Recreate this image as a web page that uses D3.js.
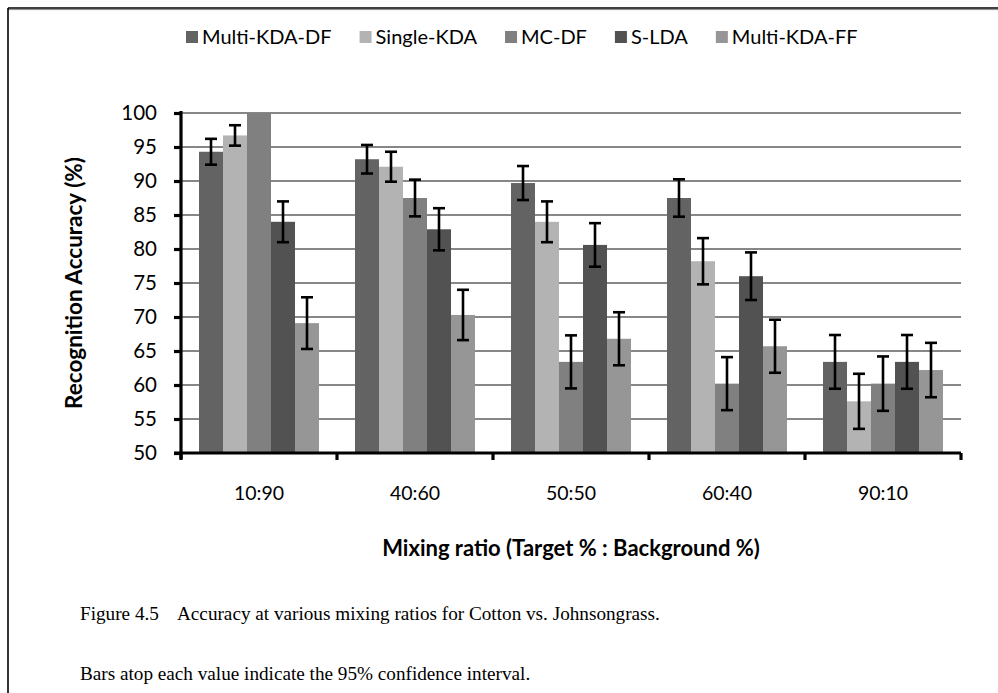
<!DOCTYPE html>
<html>
<head>
<meta charset="utf-8">
<script src="https://cdn.jsdelivr.net/npm/d3@7"></script>
<style>
  html, body { margin: 0; padding: 0; background: #fff; }
  svg { display: block; }
  .lbl { font-family: Lato, "Open Sans", sans-serif; fill: #000; }
  .cap { font-family: "Liberation Serif", "Times New Roman", serif; fill: #000; }
</style>
</head>
<body>
<svg id="chart" width="998" height="693"></svg>
<script>
// Mixing ratios (target : background)
const categories = ["10:90", "40:60", "50:50", "60:40", "90:10"];
const seriesNames = ["Multi-KDA-DF", "Single-KDA", "MC-DF", "S-LDA", "Multi-KDA-FF"];
const seriesColors = ["#636363", "#b3b3b3", "#808080", "#525252", "#969696"];

// Recognition accuracy (%) per method
const multiKdaDf = [94.3, 93.2, 89.7, 87.5, 63.4];
const singleKda  = [96.7, 92.1, 84.0, 78.2, 57.6];
const mcDf       = [100.0, 87.5, 63.4, 60.2, 60.2];
const sLda       = [84.0, 82.9, 80.6, 76.0, 63.4];
const multiKdaFf = [69.1, 70.3, 66.8, 65.7, 62.2];

// Half-width of the 95% confidence interval
const multiKdaDfErr = [1.9, 2.1, 2.5, 2.75, 3.95];
const singleKdaErr  = [1.5, 2.2, 3.0, 3.4, 4.05];
const mcDfErr       = [null, 2.7, 3.9, 3.9, 4.0];
const sLdaErr       = [3.0, 3.1, 3.2, 3.5, 3.95];
const multiKdaFfErr = [3.8, 3.7, 3.9, 3.9, 4.0];

const yTicks = [50, 55, 60, 65, 70, 75, 80, 85, 90, 95, 100];

const values = [multiKdaDf, singleKda, mcDf, sLda, multiKdaFf];
const errors = [multiKdaDfErr, singleKdaErr, mcDfErr, sLdaErr, multiKdaFfErr];

const svg = d3.select("#chart");

// page frame (top and left rules)
svg.append("line").attr("x1", 8).attr("x2", 998).attr("y1", 8).attr("y2", 8)
  .attr("stroke", "#000").attr("stroke-width", 1.6);
svg.append("line").attr("x1", 8).attr("x2", 998).attr("y1", 9.6).attr("y2", 9.6)
  .attr("stroke", "#888").attr("stroke-width", 1);
svg.append("line").attr("x1", 8).attr("x2", 8).attr("y1", 8).attr("y2", 693)
  .attr("stroke", "#000").attr("stroke-width", 1.6);

const plot = { left: 181, right: 961, top: 113, bottom: 453 };

const x0 = d3.scaleBand().domain(categories).range([plot.left, plot.right]).paddingInner(0.2308).paddingOuter(0.1154);
const x1 = d3.scaleBand().domain(seriesNames).range([0, x0.bandwidth()]);
const y = d3.scaleLinear().domain([50, 100]).range([plot.bottom, plot.top]);

// horizontal gridlines
svg.append("g").selectAll("line").data(yTicks.slice(1)).join("line")
  .attr("x1", plot.left).attr("x2", plot.right)
  .attr("y1", d => y(d)).attr("y2", d => y(d))
  .attr("stroke", "#878787").attr("stroke-width", 1.8);

// bars
const groups = svg.append("g").selectAll("g").data(categories).join("g")
  .attr("transform", c => `translate(${x0(c)},0)`);

groups.each(function (c, ci) {
  const g = d3.select(this);
  seriesNames.forEach((s, si) => {
    const v = values[si][ci];
    g.append("rect")
      .attr("x", x1(s)).attr("width", x1.bandwidth())
      .attr("y", y(v)).attr("height", y(50) - y(v))
      .attr("fill", seriesColors[si]);
  });
});

// error bars
groups.each(function (c, ci) {
  const g = d3.select(this);
  seriesNames.forEach((s, si) => {
    const v = values[si][ci], e = errors[si][ci];
    if (e == null) return;
    const cx = x1(s) + x1.bandwidth() / 2;
    const yt = y(v + e), yb = y(v - e);
    g.append("line").attr("x1", cx).attr("x2", cx).attr("y1", yt).attr("y2", yb)
      .attr("stroke", "#000").attr("stroke-width", 2.6);
    [yt, yb].forEach(yy => g.append("line")
      .attr("x1", cx - 6).attr("x2", cx + 6).attr("y1", yy).attr("y2", yy)
      .attr("stroke", "#000").attr("stroke-width", 2.6));
  });
});

// y axis
const yAxis = d3.axisLeft(y).tickValues(yTicks).tickSize(7).tickPadding(17).tickSizeOuter(0);
const ya = svg.append("g").attr("transform", `translate(${plot.left},0)`).call(yAxis);
ya.select(".domain").attr("stroke", "#000").attr("stroke-width", 3.2)
  .attr("d", `M0,${plot.top - 2}V${plot.bottom + 6}`);
ya.selectAll(".tick line").attr("stroke", "#000").attr("stroke-width", 3.2);
ya.selectAll(".tick text").attr("class", "lbl").style("font-size", "20.5px")
  .attr("font-family", null).attr("fill", "#000");

// x axis with boundary ticks between categories
const xa = svg.append("g");
xa.append("line").attr("x1", plot.left - 7).attr("x2", plot.right)
  .attr("y1", plot.bottom).attr("y2", plot.bottom)
  .attr("stroke", "#000").attr("stroke-width", 3.2);
const bounds = categories.map(c => x0(c) - x0.step() * x0.paddingInner() / 2).concat([plot.right]);
bounds[0] = plot.left;
xa.selectAll("line.b").data(bounds).join("line").attr("class", "b")
  .attr("x1", d => d).attr("x2", d => d)
  .attr("y1", plot.bottom).attr("y2", plot.bottom + 7)
  .attr("stroke", "#000").attr("stroke-width", 3.2);
xa.selectAll("text").data(categories).join("text")
  .attr("class", "lbl").style("font-size", "19.5px")
  .attr("x", c => x0(c) + x0.bandwidth() / 2).attr("y", 500)
  .attr("text-anchor", "middle").text(c => c);

// axis titles
svg.append("text").attr("class", "lbl")
  .attr("transform", `translate(82,${(plot.top + plot.bottom) / 2}) rotate(-90)`)
  .attr("text-anchor", "middle").style("font-size", "22.5px").style("font-weight", "bold")
  .text("Recognition Accuracy (%)");
svg.append("text").attr("class", "lbl")
  .attr("x", 571).attr("y", 556).attr("text-anchor", "middle")
  .style("font-size", "22px").style("font-weight", "bold")
  .text("Mixing ratio (Target % : Background %)");

// legend
const leg = svg.append("g");
let lx = 186;
seriesNames.forEach((s, i) => {
  leg.append("rect").attr("x", lx).attr("y", 31).attr("width", 12).attr("height", 12)
    .attr("fill", seriesColors[i]);
  const t = leg.append("text").attr("class", "lbl").style("font-size", "20px")
    .attr("x", lx + 16).attr("y", 44).text(s);
  lx += 16 + t.node().getComputedTextLength() + 28;
});

// caption
svg.append("text").attr("class", "cap").style("font-size", "19.2px")
  .attr("x", 80).attr("y", 620).text("Figure 4.5");
svg.append("text").attr("class", "cap").style("font-size", "19.2px")
  .attr("x", 177).attr("y", 620).text("Accuracy at various mixing ratios for Cotton vs. Johnsongrass.");
svg.append("text").attr("class", "cap").style("font-size", "19.2px")
  .attr("x", 80).attr("y", 680).text("Bars atop each value indicate the 95% confidence interval.");
</script>
</body>
</html>
